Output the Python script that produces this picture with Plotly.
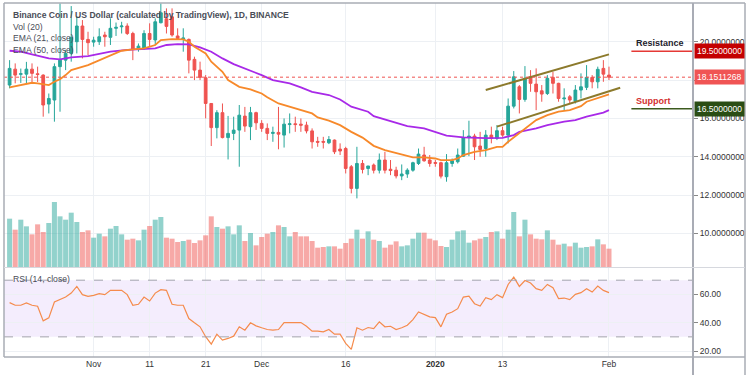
import plotly.graph_objects as go
import pandas as pd

# ---------------- data ----------------
start_date = "2019-10-17"
n_days = 108
dates = pd.date_range(start_date, periods=n_days, freq="D")

opens = [17.74, 18.57, 18.30, 18.31, 18.57, 18.33, 18.26, 16.75, 16.96, 18.70,
         19.04, 19.39, 20.00, 20.82, 20.12, 19.98, 20.00, 20.35, 20.23, 20.70,
         20.78, 20.82, 20.43, 19.60, 19.65, 20.43, 20.09, 20.99, 21.20, 21.30,
         20.30, 20.12, 20.12, 19.08, 18.52, 18.12, 16.78, 15.52, 16.30, 15.00,
         15.22, 15.39, 16.12, 15.57, 16.30, 15.74, 15.48, 15.22, 15.27, 15.13,
         15.68, 15.72, 15.70, 15.65, 15.35, 14.80, 14.80, 14.73, 14.87, 14.40,
         14.43, 13.48, 12.35, 13.65, 13.39, 13.57, 13.30, 13.83, 13.35, 13.30,
         13.00, 13.10, 13.30, 13.65, 14.09, 13.83, 13.70, 13.69, 12.96, 13.65,
         13.74, 14.03, 15.00, 15.08, 14.56, 14.43, 15.13, 14.96, 15.36, 15.13,
         16.64, 17.65, 16.99, 18.17, 17.79, 17.44, 17.30, 18.14, 17.83, 17.02,
         17.13, 16.90, 17.48, 17.62, 18.14, 17.91, 18.61, 18.26]
highs = [19.04, 18.87, 18.60, 18.95, 18.87, 18.70, 18.30, 17.30, 18.87, 22.00,
         19.57, 21.86, 21.30, 21.13, 20.52, 20.26, 20.70, 20.52, 21.22, 21.00,
         21.04, 20.96, 20.52, 19.91, 20.60, 20.96, 21.22, 22.00, 21.74, 21.74,
         20.70, 20.70, 20.17, 19.22, 18.96, 18.26, 16.80, 16.43, 16.78, 16.13,
         16.09, 16.70, 16.60, 16.60, 16.35, 15.91, 15.74, 15.57, 16.60, 16.00,
         16.26, 16.09, 16.00, 15.83, 15.48, 15.04, 15.04, 15.08, 14.90, 14.70,
         14.52, 13.57, 14.52, 13.83, 13.52, 13.65, 14.17, 14.26, 13.83, 13.48,
         13.60, 13.40, 13.74, 14.43, 14.52, 14.09, 13.83, 13.74, 14.14, 13.91,
         14.43, 15.39, 15.88, 15.20, 15.30, 15.39, 15.57, 15.65, 15.57, 17.04,
         18.47, 17.74, 18.73, 18.52, 18.61, 17.74, 18.26, 18.43, 17.86, 17.57,
         17.22, 17.74, 18.35, 18.78, 18.26, 18.70, 19.04, 18.70]
lows = [17.57, 17.83, 17.85, 17.83, 17.90, 17.90, 16.09, 16.26, 15.83, 16.35,
        18.52, 18.96, 19.39, 19.13, 19.30, 19.74, 19.83, 19.74, 19.83, 20.30,
        20.43, 20.35, 19.04, 19.48, 19.57, 19.74, 19.83, 20.96, 20.43, 20.26,
        20.09, 19.48, 18.35, 18.00, 18.00, 16.00, 14.56, 14.96, 14.96, 13.86,
        14.87, 13.48, 15.30, 14.87, 15.40, 15.30, 14.87, 14.78, 14.39, 14.48,
        15.22, 15.30, 15.30, 15.22, 14.43, 14.52, 14.43, 14.66, 14.14, 14.09,
        13.13, 12.09, 11.83, 13.13, 13.04, 13.13, 13.13, 13.13, 13.04, 12.87,
        12.78, 12.90, 13.22, 13.57, 13.74, 13.48, 13.48, 12.87, 12.70, 13.48,
        13.65, 14.00, 14.03, 13.83, 14.00, 14.00, 14.70, 14.87, 15.04, 14.70,
        16.52, 16.26, 16.87, 17.39, 16.43, 16.87, 17.22, 17.30, 16.87, 16.43,
        16.78, 16.78, 17.04, 17.48, 17.57, 17.57, 17.91, 18.00]
closes = [18.61, 18.26, 18.33, 18.57, 18.35, 18.29, 16.70, 17.04, 18.70, 19.04,
          19.39, 20.23, 20.82, 20.12, 19.95, 20.08, 20.26, 20.26, 20.70, 20.75,
          20.82, 20.43, 19.60, 19.77, 20.43, 20.12, 21.04, 21.51, 20.80, 20.35,
          20.17, 20.20, 19.04, 18.52, 18.14, 16.78, 15.52, 16.30, 15.00, 15.22,
          15.39, 16.17, 15.60, 16.30, 15.77, 15.48, 15.22, 15.27, 15.18, 15.70,
          15.72, 15.68, 15.65, 15.35, 14.78, 14.76, 14.76, 14.90, 14.26, 14.30,
          13.39, 12.35, 13.65, 13.34, 13.52, 13.30, 13.83, 13.30, 13.28, 13.00,
          13.10, 13.30, 13.69, 14.14, 13.79, 13.65, 13.66, 12.99, 13.69, 13.79,
          14.09, 15.00, 15.08, 14.52, 14.38, 15.13, 14.96, 15.36, 15.13, 16.64,
          18.17, 16.99, 18.09, 17.83, 17.39, 17.27, 18.09, 17.83, 17.04, 17.06,
          16.96, 17.48, 17.65, 18.14, 17.91, 18.56, 18.31, 18.1511268]
volumes = [145, 112, 142, 122, 98, 128, 105, 132, 195, 152,
           142, 163, 135, 105, 110, 88, 100, 92, 115, 123,
           98, 82, 85, 80, 112, 123, 142, 150, 88, 85,
           75, 78, 82, 72, 80, 95, 152, 120, 115, 122,
           98, 125, 78, 102, 65, 90, 100, 105, 125, 120,
           92, 105, 92, 92, 78, 58, 60, 62, 62, 55,
           72, 85, 112, 85, 107, 82, 78, 58, 67, 77,
           62, 65, 85, 103, 103, 85, 80, 63, 60, 82,
           107, 110, 73, 80, 85, 90, 105, 107, 85, 112,
           165, 92, 142, 98, 85, 83, 110, 82, 67, 70,
           62, 73, 58, 60, 62, 83, 68, 55]

# EMA lines, read at sample candles (candle index, value)
ema21_idx = [0, 2, 4, 5, 7, 8, 9, 10, 11, 14, 16, 18, 20, 22, 24, 26, 27, 29, 31, 32,
             33, 35, 36, 38, 39, 41, 43, 45, 46, 48, 50, 52, 54, 55, 57, 59, 61, 63, 64, 65,
             67, 69, 71, 72, 74, 76, 77, 79, 80, 81, 83, 85, 87, 88, 89, 91, 93, 94, 96, 98,
             100, 102, 103, 105, 107]
ema21_val = [17.62, 17.74, 17.86, 17.83, 17.74, 17.91, 18.05, 18.26, 18.52, 18.78,
             19.04, 19.30, 19.53, 19.60, 19.65, 19.83, 20.09, 20.14, 20.12, 20.00,
             19.74, 19.39, 18.96, 18.43, 18.00, 17.65, 17.51, 17.30, 17.10, 16.78,
             16.61, 16.47, 16.26, 16.05, 15.88, 15.65, 15.30, 15.00, 14.78, 14.57,
             14.35, 14.20, 14.03, 13.97, 13.97, 13.91, 13.83, 13.83, 13.91, 14.09,
             14.26, 14.35, 14.52, 14.52, 14.78, 15.22, 15.65, 15.91, 16.17, 16.35,
             16.43, 16.64, 16.87, 17.04, 17.25]
ema50_idx = [0, 2, 4, 7, 9, 11, 14, 16, 18, 21, 23, 26, 28, 30, 32, 34, 36, 38, 40, 42,
             45, 47, 50, 52, 54, 57, 59, 61, 64, 65, 67, 69, 71, 74, 76, 78, 81, 83, 85, 88,
             90, 91, 94, 96, 99, 101, 103, 106, 107]
ema50_val = [19.53, 19.48, 19.34, 19.13, 19.08, 19.18, 19.25, 19.36, 19.48, 19.57,
             19.60, 19.65, 19.83, 19.88, 19.86, 19.70, 19.48, 19.13, 18.83, 18.61,
             18.26, 18.00, 17.83, 17.62, 17.39, 17.22, 16.99, 16.61, 16.35, 16.12,
             15.95, 15.77, 15.60, 15.48, 15.30, 15.10, 15.01, 14.99, 14.97, 14.99,
             15.13, 15.30, 15.48, 15.65, 15.83, 15.91, 16.09, 16.30, 16.43]

rsi = [54.2, 52.3, 52.3, 53.9, 52.3, 51.6, 41.3, 43.4, 54.6, 56.3,
       58.1, 60.9, 65.6, 59.8, 58.6, 59.3, 60.5, 59.8, 62.8, 62.8,
       62.8, 59.8, 52.3, 53.0, 58.1, 55.3, 60.9, 63.3, 62.8, 53.0,
       52.3, 52.3, 42.9, 39.9, 37.1, 30.1, 24.9, 31.9, 27.7, 28.9,
       30.5, 37.1, 34.7, 39.9, 37.8, 36.4, 35.2, 34.7, 35.2, 40.1,
       40.1, 39.9, 40.1, 37.5, 34.0, 34.0, 33.6, 35.2, 31.9, 31.9,
       25.4, 21.2, 36.4, 34.7, 36.6, 35.9, 40.6, 37.1, 37.5, 35.2,
       36.4, 38.2, 42.2, 47.6, 45.7, 44.1, 43.6, 37.1, 46.0, 47.6,
       49.9, 58.1, 58.8, 53.4, 51.8, 57.7, 56.3, 59.8, 57.7, 67.0,
       72.2, 65.6, 69.8, 68.0, 64.0, 62.8, 67.0, 64.7, 57.0, 57.4,
       56.3, 60.0, 61.2, 64.0, 61.6, 65.8, 62.8, 61.2]

# drawn channel (two trend lines) and levels
channel_upper_dates = ["2020-01-10", "2020-02-01"]
channel_upper_vals = [17.48, 19.34]
channel_lower_dates = ["2020-01-12", "2020-02-03"]
channel_lower_vals = [15.57, 17.60]
resistance = 19.5
support = 16.5
level_line_dates = ["2020-02-05", "2020-02-16"]
last_price = 18.1511268

price_ticks = [10, 12, 14, 16, 18, 20]
price_tick_text = ["10.0000000", "12.0000000", "14.0000000", "16.0000000", "", "20.0000000"]
rsi_ticks = [20, 40, 60]
time_tick_dates = ["2019-11-01", "2019-11-11", "2019-11-21", "2019-12-01",
                   "2019-12-16", "2020-01-01", "2020-01-13", "2020-02-01"]
time_tick_text = ["Nov", "11", "21", "Dec", "16", "<b>2020</b>", "13", "Feb"]

# ---------------- styling ----------------
UP = "#26a69a"
DOWN = "#ef5350"
UP_VOL = "rgba(38,166,154,0.5)"
DOWN_VOL = "rgba(239,83,80,0.5)"
GRID = "#edf0f4"
FONT = "Liberation Sans"
TXT = "#4a4d57"

vol_colors = [UP_VOL if c >= o else DOWN_VOL for o, c in zip(opens, closes)]

fig = go.Figure()

fig.add_trace(go.Bar(x=dates, y=volumes, marker=dict(color=vol_colors, line=dict(width=0)),
                     width=86400000 * 0.9, xaxis="x", yaxis="y3", hoverinfo="skip"))

fig.add_trace(go.Scatter(x=[dates[i] for i in ema50_idx], y=ema50_val, mode="lines",
                         line=dict(color="#a829e8", width=1.8), xaxis="x", yaxis="y"))
fig.add_trace(go.Scatter(x=[dates[i] for i in ema21_idx], y=ema21_val, mode="lines",
                         line=dict(color="#f7892a", width=1.8), xaxis="x", yaxis="y"))

fig.add_trace(go.Candlestick(x=dates, open=opens, high=highs, low=lows, close=closes,
                             increasing=dict(line=dict(color=UP, width=1), fillcolor=UP),
                             decreasing=dict(line=dict(color=DOWN, width=1), fillcolor=DOWN),
                             whiskerwidth=0, xaxis="x", yaxis="y"))

fig.add_trace(go.Scatter(x=channel_upper_dates, y=channel_upper_vals, mode="lines",
                         line=dict(color="#8c7a2c", width=2), xaxis="x", yaxis="y"))
fig.add_trace(go.Scatter(x=channel_lower_dates, y=channel_lower_vals, mode="lines",
                         line=dict(color="#8c7a2c", width=2), xaxis="x", yaxis="y"))
fig.add_trace(go.Scatter(x=level_line_dates, y=[resistance, resistance], mode="lines",
                         line=dict(color="#e53935", width=1.5), xaxis="x", yaxis="y",
                         cliponaxis=False))
fig.add_trace(go.Scatter(x=level_line_dates, y=[support, support], mode="lines",
                         line=dict(color="#3c5a1e", width=1.5), xaxis="x", yaxis="y",
                         cliponaxis=False))

fig.add_trace(go.Scatter(x=dates, y=rsi, mode="lines", line=dict(color="#f58b4c", width=1.2),
                         xaxis="x2", yaxis="y2"))

x_range = ["2019-10-16", "2020-02-16"]

fig.update_layout(
    template="none",
    width=750, height=375,
    margin=dict(l=4, r=57, t=3, b=18, autoexpand=False),
    paper_bgcolor="white", plot_bgcolor="white",
    showlegend=False, hovermode=False,
    font=dict(family=FONT, size=8, color="#333"),
    xaxis=dict(domain=[0, 1], anchor="y", range=x_range, type="date", automargin=False,
               tickvals=time_tick_dates, showticklabels=False, showgrid=True,
               gridcolor=GRID, gridwidth=1, zeroline=False, showline=False, ticks="",
               rangeslider=dict(visible=False)),
    yaxis=dict(domain=[0.2542, 1], anchor="x", side="right", range=[8.25, 22.02],
               automargin=False, tickvals=price_ticks, ticktext=price_tick_text,
               showgrid=True, gridcolor=GRID, gridwidth=1,
               zeroline=False, ticks="outside", ticklen=4, tickcolor="#888",
               tickfont=dict(size=8.5, color="#333")),
    yaxis3=dict(overlaying="y", range=[0, 792], visible=False, automargin=False),
    xaxis2=dict(domain=[0, 1], anchor="y2", range=x_range, type="date", matches="x",
                automargin=False, tickvals=time_tick_dates, ticktext=time_tick_text,
                showgrid=True, gridcolor=GRID, gridwidth=1, zeroline=False,
                showline=False, ticks="", tickfont=dict(size=8.5, color="#333")),
    yaxis2=dict(domain=[0, 0.2514], anchor="x2", side="right", range=[15.8, 78.6],
                automargin=False, tickvals=rsi_ticks, tickformat=".2f", showgrid=True,
                gridcolor=GRID, gridwidth=1, zeroline=False, ticks="outside", ticklen=4,
                tickcolor="#888", tickfont=dict(size=8.5, color="#333")),
)

shapes = []
# RSI band and bounds
shapes.append(dict(type="rect", xref="x2 domain", yref="y2", x0=0, x1=1, y0=30, y1=70,
                   fillcolor="rgba(155,89,240,0.11)", line=dict(width=0), layer="below"))
for lv in (30, 70):
    shapes.append(dict(type="line", xref="x2 domain", yref="y2", x0=0, x1=1, y0=lv, y1=lv,
                       line=dict(color="#a3a3ad", width=1, dash="dash")))
# last price dotted line
shapes.append(dict(type="line", xref="x domain", yref="y", x0=0, x1=1, y0=last_price,
                   y1=last_price, line=dict(color=DOWN, width=1, dash="dot")))
# frame / separators
frame = "#a9acb5"
R = 1 + 52 / 689
shapes.append(dict(type="line", xref="paper", yref="paper", x0=0, x1=R, y0=1, y1=1,
                   line=dict(color=frame, width=1.5)))
shapes.append(dict(type="line", xref="paper", yref="paper", x0=0, x1=0, y0=0, y1=1,
                   line=dict(color=frame, width=1.5)))
shapes.append(dict(type="line", xref="paper", yref="paper", x0=R, x1=R, y0=-18 / 354, y1=1,
                   line=dict(color=frame, width=1.5)))
shapes.append(dict(type="line", xref="paper", yref="paper", x0=1, x1=1, y0=-18 / 354, y1=1,
                   line=dict(color=frame, width=2)))
shapes.append(dict(type="line", xref="paper", yref="paper", x0=0, x1=R, y0=0, y1=0,
                   line=dict(color=frame, width=1.5)))
shapes.append(dict(type="line", xref="paper", yref="paper", x0=0, x1=R,
                   y0=(357 - 267.5) / 354, y1=(357 - 267.5) / 354,
                   line=dict(color="#d6d8de", width=1)))
fig.update_layout(shapes=shapes)

ann = []
legend_lines = ["Binance Coin / US Dollar (calculated by TradingView), 1D, BINANCE",
                "Vol (20)", "EMA (21, close)", "EMA (50, close)"]
for k, t in enumerate(legend_lines):
    ann.append(dict(xref="paper", yref="paper", x=7 / 689, y=(357 - (15 + 11.7 * k)) / 354,
                    text=("<b>" + t + "</b>") if k == 0 else t, showarrow=False,
                    xanchor="left", yanchor="middle",
                    font=dict(family=FONT, size=8.6, color=TXT)))
ann.append(dict(xref="paper", yref="paper", x=7 / 689, y=(357 - 279) / 354,
                text="RSI (14, close)", showarrow=False, xanchor="left", yanchor="middle",
                font=dict(family=FONT, size=8.6, color=TXT)))
# price-scale labels
for val, bg in ((resistance, "#c40000"), (last_price, "#f05454"), (support, "#2a4d14")):
    ann.append(dict(xref="paper", yref="y", x=1, y=val, text=f"{val:.7f}",
                    showarrow=False, xanchor="left", yanchor="middle", bgcolor=bg,
                    borderpad=2, xshift=1,
                    font=dict(family=FONT, size=8.5, color="white")))
ann.append(dict(xref="paper", yref="y", x=(634 - 4) / 689, y=resistance,
                text="<b>Resistance</b>", showarrow=False, xanchor="left", yanchor="bottom",
                yshift=1, font=dict(family=FONT, size=9, color="#1e222d")))
ann.append(dict(xref="paper", yref="y", x=(634 - 4) / 689, y=support,
                text="<b>Support</b>", showarrow=False, xanchor="left", yanchor="bottom",
                yshift=1, font=dict(family=FONT, size=9, color="#d32f2f")))
fig.update_layout(annotations=ann)

fig.write_html("out.html", config={"displayModeBar": False},
               post_script="document.body.style.margin='0';")
